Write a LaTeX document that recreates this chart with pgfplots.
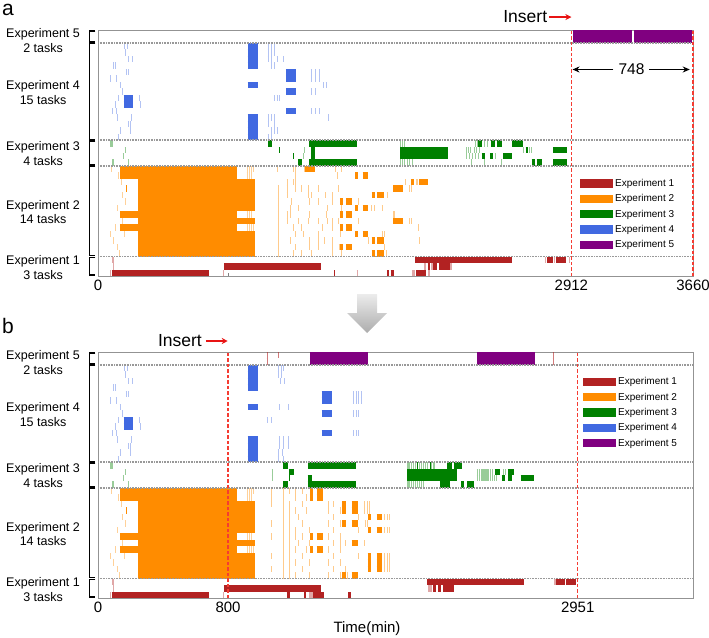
\documentclass[border=0pt]{standalone}
\usepackage{pgfplots}
\pgfplotsset{compat=1.18}
\usepackage{pgfplotstable}
\usepackage{fontspec}
\setmainfont{Liberation Sans}
\usetikzlibrary{arrows.meta}

\definecolor{cA}{HTML}{B22222}
\definecolor{cB}{HTML}{FF8C00}
\definecolor{cC}{HTML}{008000}
\definecolor{cD}{HTML}{4169E1}
\definecolor{cE}{HTML}{800080}
\definecolor{rl}{RGB}{245,60,50}
\definecolor{ins}{RGB}{232,20,20}
\definecolor{sepc}{gray}{0.6}

\pgfplotsset{
  bar/.style 2 args={draw=none, mark=none, forget plot,
    error bars/x dir=plus, error bars/x explicit, error bars/error mark=none,
    error bars/error bar style={line width=6.474pt, draw=#1, draw opacity=#2, line cap=butt}},
  gantax/.style={scale only axis, width=595pt, height=246pt,
    xmin=0, xmax=3660, ymin=0, ymax=38, clip=false,
    axis line style={draw=gray!85, line width=0.8pt},
    ytick=\empty, minor ytick={1,2,...,37}, minor tick length=2.5pt,
    tick align=inside, major tick length=3pt,
    tick style={gray, line width=0.5pt},
    xtick pos=bottom, ytick pos=left,
    xticklabel style={font=\fontsize{15}{18}\selectfont},
    legend cell align=left,
    legend image code/.code={\fill[##1, draw=none] (0pt,-4.2pt) rectangle (33pt,4.2pt);},
    legend style={draw=none, fill=none, anchor=north west,
      font=\fontsize{10}{12}\selectfont, row sep=2.6pt, inner sep=0pt}},
}
\newcommand\G[3]{\addplot[bar={#1}{#2}] table[x=s, y expr=\thisrow{r}+0.5, x error expr=\thisrow{e}-\thisrow{s}] {#3};}
\tikzset{lbl/.style={align=center, font=\fontsize{12.5}{14.7}\selectfont, inner sep=0pt},
  rdash/.style={draw=rl, dash pattern=on 3.5pt off 2pt, line width=1.4pt}}
\newcommand\brk[2]{\draw[line width=1.1pt, black] (axis cs:-16,#2) -- (axis cs:-54,#2) -- (axis cs:-54,#1) -- (axis cs:-16,#1);}
\newcommand\sepl[1]{\draw[sepc, dash pattern=on 1pt off 0.6pt, line width=1.3pt] (axis cs:0,#1) -- (axis cs:3660,#1);}
\newcommand\sides{%
  \node[lbl] at (axis cs:-338,36.4) {Experiment 5\\2 tasks};
  \node[lbl] at (axis cs:-338,28.3) {Experiment 4\\15 tasks};
  \node[lbl] at (axis cs:-338,18.9) {Experiment 3\\4 tasks};
  \node[lbl] at (axis cs:-338,9.9) {Experiment 2\\14 tasks};
  \node[lbl] at (axis cs:-338,1.35) {Experiment 1\\3 tasks};
  \brk{0.15}{2.85}\brk{3.15}{16.85}\brk{17.15}{20.85}\brk{21.15}{35.85}\brk{36.15}{37.85}
  \sepl{3}\sepl{17}\sepl{21}\sepl{36}
}
\newcommand\legs{%
  \addlegendimage{fill=cA}\addlegendentry{Experiment 1}
  \addlegendimage{fill=cB}\addlegendentry{Experiment 2}
  \addlegendimage{fill=cC}\addlegendentry{Experiment 3}
  \addlegendimage{fill=cD}\addlegendentry{Experiment 4}
  \addlegendimage{fill=cE}\addlegendentry{Experiment 5}
}

% ---------------- common data (both schedules) ----------------
\pgfplotstableread[row sep=\\]{s e r\\ 84 685 0\\ 775 1374 1\\}\ConeS
\pgfplotstableread[row sep=\\]{s e r\\ 74 80 0\\ 84 88 2\\ 94 98 2\\ 94 98 1\\ 770 775 0\\}\ConeL
\pgfplotstableread[row sep=\\]{s e r\\ 135 853 16\\ 135 853 15\\ 248 966 14\\ 248 966 13\\ 248 966 12\\ 248 966 11\\ 248 966 10\\ 135 853 9\\ 248 966 8\\ 135 853 7\\ 248 966 6\\ 248 966 5\\ 248 966 4\\ 248 966 3\\ 172 178 13\\}\CtwoS
\pgfplotstableread[row sep=\\]{s e r\\ 80 86 16\\ 125 131 15\\ 142 148 14\\ 146 152 12\\ 166 172 11\\ 117 123 10\\ 150 156 8\\ 105 111 7\\ 76 82 6\\ 160 166 6\\ 94 100 5\\ 115 121 4\\ 130 136 3\\
914 919 16\\ 928 933 16\\ 942 947 16\\ 956 961 16\\ 914 919 15\\ 928 933 15\\ 942 947 15\\ 914 919 9\\ 928 933 9\\ 942 947 9\\ 914 919 7\\ 928 933 7\\ 942 947 7\\ 956 961 7\\}\CtwoL
\pgfplotstableread[row sep=\\]{s e r\\ 74 90 20\\ 164 168 19\\ 152 156 18\\ 88 100 17\\ 184 190 17\\}\CthrL
\pgfplotstableread[row sep=\\]{s e r\\ 920 982 35\\ 920 982 34\\ 920 982 33\\ 920 982 32\\ 920 982 29\\ 920 982 24\\ 920 982 23\\ 920 982 22\\ 920 982 21\\ 158 213 27\\ 158 213 26\\}\CfouS
\pgfplotstableread[row sep=\\]{s e r\\ 162 166 35\\ 176 180 35\\ 166 172 34\\ 183 187 33\\ 209 213 33\\ 94 98 32\\ 103 107 32\\ 170 174 31\\ 187 191 31\\ 74 78 30\\ 109 113 30\\ 133 138 29\\ 146 150 28\\ 125 129 27\\ 252 256 27\\ 105 109 26\\ 256 260 26\\ 88 92 25\\ 109 113 25\\ 115 119 24\\ 203 207 24\\ 183 187 23\\ 197 201 23\\ 135 139 22\\ 197 201 22\\ 121 125 21\\}\CfouL

% ---------------- schedule a ----------------
\pgfplotstableread[row sep=\\]{s e r\\ 1453 1457 0\\ 1777 1790 0\\ 1800 1820 0\\ 1956 2015 0\\ 1952 2549 2\\ 2760 2800 2\\ 2815 2878 2\\ 2028 2045 1\\ 2062 2085 1\\ 2095 2165 1\\}\AoneS
\pgfplotstableread[row sep=\\]{s e r\\ 1591 1595 0\\ 1932 1950 0\\ 2030 2040 0\\ 2748 2758 2\\ 2803 2812 2\\ 2900 2906 2\\ 2005 2015 1\\ 2050 2058 1\\ 2165 2175 1\\}\AoneL
\pgfplotstableread[row sep=\\]{s e r\\ 1273 1335 16\\ 1581 1602 15\\ 1628 1663 15\\ 1925 1944 14\\ 1976 2030 14\\ 1815 1876 13\\ 1683 1704 12\\ 1716 1759 12\\ 1488 1507 11\\ 1525 1562 11\\ 1581 1602 10\\ 1628 1661 10\\ 1488 1507 9\\ 1525 1562 9\\ 1815 1876 8\\ 1488 1507 7\\ 1525 1562 7\\ 1581 1602 6\\ 1628 1661 6\\ 1683 1704 5\\ 1716 1759 5\\ 1488 1507 4\\ 1525 1562 4\\ 1683 1704 3\\ 1716 1759 3\\}\AtwoS
\pgfplotstableread[row sep=\\]{s e r\\ 1100 1106 16\\ 1200 1206 16\\ 1211 1217 16\\ 1268 1274 16\\ 1458 1464 16\\ 1495 1501 16\\ 1211 1217 15\\ 1470 1476 15\\
1160 1166 14\\ 1200 1206 14\\ 1211 1217 14\\ 1888 1894 14\\ 1955 1961 14\\ 1965 1971 14\\
1160 1166 13\\ 1211 1217 13\\ 1250 1256 13\\ 1293 1299 13\\ 1355 1361 13\\ 1478 1484 13\\ 1910 1916 13\\ 1925 1931 13\\
1160 1166 12\\ 1293 1299 12\\ 1310 1316 12\\ 1396 1402 12\\ 1440 1446 12\\ 1775 1781 12\\
1190 1196 11\\ 1300 1306 11\\ 1355 1361 11\\ 1440 1446 11\\ 1600 1606 11\\
1180 1186 10\\ 1230 1236 10\\ 1410 1416 10\\ 1495 1501 10\\ 1680 1686 10\\ 1700 1706 10\\ 1745 1751 10\\
1160 1166 9\\ 1180 1186 9\\ 1300 1306 9\\ 1400 1406 9\\ 1817 1827 9\\
1160 1166 8\\ 1230 1236 8\\ 1293 1299 8\\ 1355 1361 8\\ 1410 1416 8\\ 1440 1446 8\\ 1478 1484 8\\ 1600 1606 8\\ 1915 1921 8\\ 1925 1931 8\\
1200 1206 7\\ 1250 1256 7\\ 1380 1386 7\\ 1440 1446 7\\ 1970 1976 7\\
1211 1217 6\\ 1260 1266 6\\ 1355 1361 6\\ 1490 1496 6\\ 1745 1751 6\\ 1760 1766 6\\
1180 1186 5\\ 1300 1306 5\\ 1355 1361 5\\ 1390 1396 5\\ 1440 1446 5\\ 1660 1666 5\\ 1976 1982 5\\
1211 1217 4\\ 1300 1306 4\\ 1355 1361 4\\ 1440 1446 4\\ 1480 1486 4\\ 1760 1766 4\\
1200 1206 3\\ 1250 1256 3\\ 1310 1316 3\\ 1440 1446 3\\ 1495 1501 3\\ 1745 1751 3\\ 1770 1776 3\\
1107 1114 13\\ 1107 1114 12\\ 1107 1114 11\\ 1107 1114 10\\ 1107 1114 9\\ 1107 1114 8\\ 1107 1114 7\\ 1107 1114 6\\ 1107 1114 5\\ 1107 1114 4\\ 1107 1114 3\\}\AtwoL
\pgfplotstableread[row sep=\\]{s e r\\ 1043 1072 20\\ 1298 1595 20\\ 1113 1117 19\\ 1201 1205 18\\ 1232 1257 17\\ 1298 1595 17\\ 1310 1335 19\\ 1310 1335 18\\ 1858 2155 19\\ 1858 2155 18\\ 2544 2616 20\\ 2420 2440 20\\ 2455 2483 20\\ 2340 2360 20\\ 2800 2883 19\\ 2800 2883 17\\ 2667 2688 17\\ 2698 2729 17\\ 2360 2380 18\\ 2411 2432 18\\ 2493 2544 18\\ 2630 2645 19\\}\AthrS
\pgfplotstableread[row sep=\\]{s e r\\ 1860 1866 20\\ 1872 1878 20\\ 1884 1890 20\\ 2320 2326 20\\ 2330 2336 20\\ 2372 2378 20\\ 2395 2401 20\\
2265 2270 19\\ 2275 2280 19\\ 2290 2295 19\\ 2310 2315 19\\ 2325 2330 19\\ 2345 2350 19\\ 2616 2622 19\\ 2650 2656 19\\ 2665 2671 19\\ 1269 1273 19\\
2265 2270 18\\ 2280 2285 18\\ 2300 2305 18\\ 2320 2325 18\\ 2340 2345 18\\ 2440 2445 18\\ 1263 1267 18\\
1858 1864 17\\ 1870 1876 17\\ 1885 1891 17\\ 1900 1906 17\\ 1915 1921 17\\ 1930 1936 17\\ 2292 2296 17\\ 2376 2380 17\\ 2479 2483 17\\ 2705 2712 17\\}\AthrL
\pgfplotstableread[row sep=\\]{s e r\\ 1156 1218 31\\ 1156 1218 30\\ 1156 1218 28\\ 1156 1218 25\\}\AfouS
\pgfplotstableread[row sep=\\]{s e r\\ 1043 1047 35\\ 1064 1068 35\\ 1085 1089 35\\ 1043 1047 34\\ 1064 1068 34\\ 1085 1089 34\\ 1043 1047 24\\ 1064 1068 24\\ 1085 1089 24\\ 1417 1421 24\\
1043 1047 33\\ 1064 1068 33\\ 1099 1103 33\\ 1140 1144 33\\ 1064 1068 32\\ 1085 1089 32\\
1310 1314 31\\ 1335 1339 31\\ 1359 1363 31\\ 1310 1314 30\\ 1335 1339 30\\ 1359 1363 30\\ 1310 1314 25\\ 1335 1339 25\\ 1359 1363 25\\
1386 1390 29\\ 1400 1404 29\\ 1310 1314 28\\ 1335 1339 28\\ 1085 1089 27\\ 1099 1103 27\\ 1113 1117 27\\
1043 1047 23\\ 1085 1089 23\\ 1064 1068 22\\ 1085 1089 22\\ 1099 1103 22\\ 1043 1047 21\\ 1064 1068 21\\}\AfouL
\pgfplotstableread[row sep=\\]{s e r\\ 2923 3282 36\\ 2923 3282 37\\ 3297 3652 36\\ 3297 3652 37\\}\AfivS

% ---------------- schedule b ----------------
\pgfplotstableread[row sep=\\]{s e r\\ 1160 1181 0\\ 1269 1279 0\\ 1324 1390 0\\ 1540 1556 0\\ 2026 2622 2\\ 2820 2870 2\\ 2880 2940 2\\ 2063 2080 1\\ 2090 2110 1\\ 2120 2190 1\\}\BoneS
\pgfplotstableread[row sep=\\]{s e r\\ 1300 1322 0\\ 2805 2815 2\\ 2030 2055 1\\ 1160 1165 1\\}\BoneL
\pgfplotstableread[row sep=\\]{s e r\\ 1304 1325 16\\ 1345 1386 16\\ 1304 1325 15\\ 1345 1386 15\\ 1304 1325 9\\ 1345 1386 9\\ 1304 1325 7\\ 1345 1386 7\\
1503 1523 14\\ 1560 1601 14\\ 1503 1523 13\\ 1560 1601 13\\ 1503 1523 11\\ 1560 1601 11\\ 1503 1523 3\\ 1560 1601 3\\ 1560 1601 8\\
1658 1679 12\\ 1714 1749 12\\ 1658 1679 10\\ 1714 1749 10\\ 1658 1679 6\\ 1714 1749 6\\ 1658 1679 5\\ 1714 1749 5\\ 1658 1679 4\\ 1714 1749 4\\}\BtwoS
\pgfplotstableread[row sep=\\]{s e r\\ 1064 1070 16\\ 1177 1183 16\\ 1212 1218 16\\ 1253 1259 16\\ 1064 1070 15\\ 1212 1218 15\\ 1277 1283 15\\
1064 1070 14\\ 1177 1183 14\\ 1253 1259 14\\ 1417 1423 14\\ 1447 1453 14\\ 1638 1644 14\\ 1655 1661 14\\ 1670 1676 14\\
1212 1218 13\\ 1277 1283 13\\ 1417 1423 13\\ 1488 1494 13\\ 1638 1644 13\\ 1655 1661 13\\ 1670 1676 13\\
1230 1236 12\\ 1447 1453 12\\ 1600 1606 12\\ 1761 1767 12\\ 1775 1781 12\\ 1790 1796 12\\
1064 1070 11\\ 1253 1259 11\\ 1417 1423 11\\ 1488 1494 11\\ 1640 1646 11\\ 1655 1661 11\\
1212 1218 10\\ 1300 1306 10\\ 1447 1453 10\\ 1600 1606 10\\ 1761 1767 10\\ 1775 1781 10\\ 1790 1796 10\\
1064 1070 9\\ 1212 1218 9\\ 1253 1259 9\\ 1417 1423 9\\ 1488 1494 9\\
1230 1236 8\\ 1300 1306 8\\ 1447 1453 8\\ 1488 1494 8\\ 1520 1526 8\\ 1638 1644 8\\
1212 1218 7\\ 1277 1283 7\\ 1417 1423 7\\ 1488 1494 7\\
1064 1070 6\\ 1253 1259 6\\ 1447 1453 6\\ 1600 1606 6\\ 1761 1767 6\\ 1775 1781 6\\ 1790 1796 6\\
1212 1218 5\\ 1300 1306 5\\ 1417 1423 5\\ 1488 1494 5\\ 1761 1767 5\\ 1775 1781 5\\ 1790 1796 5\\
1064 1070 4\\ 1253 1259 4\\ 1447 1453 4\\ 1520 1526 4\\ 1761 1767 4\\ 1775 1781 4\\ 1790 1796 4\\
1212 1218 3\\ 1300 1306 3\\ 1417 1423 3\\ 1488 1494 3\\ 1520 1526 3\\ 1530 1536 3\\
1139 1147 16\\ 1139 1147 15\\ 1139 1147 14\\ 1139 1147 13\\ 1139 1147 12\\ 1139 1147 11\\ 1139 1147 10\\ 1139 1147 9\\ 1139 1147 8\\ 1139 1147 7\\ 1139 1147 6\\ 1139 1147 5\\ 1139 1147 4\\ 1139 1147 3\\
1176 1183 13\\ 1176 1183 12\\ 1176 1183 11\\ 1176 1183 10\\ 1176 1183 9\\ 1176 1183 8\\ 1176 1183 7\\ 1176 1183 6\\ 1176 1183 5\\ 1176 1183 4\\ 1176 1183 3\\}\BtwoL
\pgfplotstableread[row sep=\\]{s e r\\ 1140 1171 20\\ 1289 1587 20\\ 1177 1205 19\\ 1289 1318 18\\ 1140 1171 17\\ 1289 1587 17\\ 1903 2206 19\\ 1903 2206 18\\ 2149 2180 20\\ 2190 2237 20\\ 2103 2165 17\\ 2233 2252 17\\ 2270 2313 17\\ 2600 2682 18\\ 2483 2503 18\\ 2524 2544 18\\ 2440 2470 19\\ 2520 2560 19\\ 1177 1181 18\\ 1960 1966 20\\ 2040 2046 20\\}\BthrS
\pgfplotstableread[row sep=\\]{s e r\\ 1903 1910 20\\ 1915 1922 20\\ 1927 1934 20\\ 1939 1946 20\\ 1951 1958 20\\ 1975 1982 20\\ 1987 1994 20\\ 1999 2006 20\\ 2011 2018 20\\ 2023 2030 20\\ 2050 2057 20\\ 2059 2073 20\\
2329 2336 19\\ 2341 2348 19\\ 2353 2360 19\\ 2365 2372 19\\ 2377 2384 19\\ 2389 2396 19\\ 2401 2408 19\\ 2413 2420 19\\ 2425 2432 19\\ 2490 2497 19\\ 2502 2509 19\\ 1068 1072 19\\
2329 2336 18\\ 2341 2348 18\\ 2353 2360 18\\ 2365 2372 18\\ 2377 2384 18\\ 2389 2396 18\\ 2401 2408 18\\ 2413 2420 18\\ 2425 2432 18\\ 2437 2444 18\\ 2449 2456 18\\ 1068 1072 18\\
1903 1910 17\\ 1915 1922 17\\ 1927 1934 17\\ 1939 1946 17\\ 1951 1958 17\\ 1963 1970 17\\ 1975 1982 17\\ 1987 1994 17\\ 1999 2006 17\\}\BthrL
\pgfplotstableread[row sep=\\]{s e r\\ 1375 1437 31\\ 1375 1437 30\\ 1375 1437 28\\ 1375 1437 25\\}\BfouS
\pgfplotstableread[row sep=\\]{s e r\\ 1105 1109 35\\ 1125 1129 35\\ 1140 1144 35\\ 1105 1109 34\\ 1125 1129 34\\ 1120 1124 33\\ 1146 1150 33\\ 1113 1117 29\\ 1171 1175 29\\ 1037 1041 27\\ 1064 1068 27\\
1113 1117 24\\ 1140 1144 24\\ 1171 1175 24\\ 1113 1117 23\\ 1140 1144 23\\ 1171 1175 23\\ 1105 1109 22\\ 1130 1134 22\\ 1105 1109 21\\ 1140 1144 21\\
1570 1574 31\\ 1585 1589 31\\ 1600 1604 31\\ 1615 1619 31\\ 1570 1574 30\\ 1585 1589 30\\ 1600 1604 30\\ 1615 1619 30\\ 1570 1574 28\\ 1585 1589 28\\ 1600 1604 28\\ 1570 1574 25\\ 1585 1589 25\\ 1600 1604 25\\}\BfouL
\pgfplotstableread[row sep=\\]{s e r\\ 1304 1663 36\\ 1304 1663 37\\ 2333 2688 36\\ 2333 2688 37\\}\BfivS
\pgfplotstableread[row sep=\\]{s e r\\ 1037 1042 36\\ 1037 1042 37\\ 1105 1109 37\\ 2796 2801 36\\ 2796 2801 37\\}\BfivL

\begin{document}
\begin{tikzpicture}
\useasboundingbox (0,0) rectangle (709pt,-637pt);

% ================= panel a =================
\begin{axis}[gantax, at={(98pt,-276pt)}, anchor=south west,
  xtick={0,2912,3660}, xticklabels={0,2912,3660},
  extra x ticks={800}, extra x tick labels={},
  legend style={at={(0.8101,0.4026)}}]
\legs
\G{cA}{1}{\ConeS}\G{cA}{0.4}{\ConeL}\G{cA}{1}{\AoneS}\G{cA}{0.4}{\AoneL}
\G{cB}{1}{\CtwoS}\G{cB}{0.4}{\CtwoL}\G{cB}{1}{\AtwoS}\G{cB}{0.45}{\AtwoL}
\G{cC}{0.4}{\CthrL}\G{cC}{1}{\AthrS}\G{cC}{0.4}{\AthrL}
\G{cD}{1}{\CfouS}\G{cD}{0.4}{\CfouL}\G{cD}{1}{\AfouS}\G{cD}{0.4}{\AfouL}
\G{cE}{1}{\AfivS}
\sides
\draw[rdash] (axis cs:2912,0) -- (axis cs:2912,38);
\draw[rdash] (axis cs:3660,0) -- (axis cs:3660,38);
\node[anchor=east, inner sep=0pt, font=\fontsize{17.5}{20}\selectfont] at (axis cs:2764,40.0) {Insert};
\draw[ins, line width=1.7pt, -{Stealth[length=6pt,width=6pt]}] (axis cs:2774,40.0) -- (axis cs:2912,40.0);
\draw[line width=0.9pt, -{Stealth[length=7pt,width=6pt]}] (axis cs:3170,31.9) -- (axis cs:2919,31.9);
\draw[line width=0.9pt, -{Stealth[length=7pt,width=6pt]}] (axis cs:3391,31.9) -- (axis cs:3640,31.9);
\node[font=\fontsize{15.5}{18}\selectfont] at (axis cs:3282,31.9) {748};
\end{axis}

% ================= panel b =================
\begin{axis}[gantax, at={(98pt,-598pt)}, anchor=south west,
  xtick={0,800,2951}, xticklabels={0,800,2951},
  legend style={at={(0.8150,0.9053)}}]
\legs
\G{cA}{1}{\ConeS}\G{cA}{0.4}{\ConeL}\G{cA}{1}{\BoneS}\G{cA}{0.4}{\BoneL}
\G{cB}{1}{\CtwoS}\G{cB}{0.4}{\CtwoL}\G{cB}{1}{\BtwoS}\G{cB}{0.45}{\BtwoL}
\G{cC}{0.4}{\CthrL}\G{cC}{1}{\BthrS}\G{cC}{0.4}{\BthrL}
\G{cD}{1}{\CfouS}\G{cD}{0.4}{\CfouL}\G{cD}{1}{\BfouS}\G{cD}{0.4}{\BfouL}
\G{cE}{1}{\BfivS}\G{cA}{0.6}{\BfivL}
\sides
\draw[rdash] (axis cs:800,0) -- (axis cs:800,38);
\draw[rdash] (axis cs:2951,0) -- (axis cs:2951,38);
\node[anchor=east, inner sep=0pt, font=\fontsize{17.5}{20}\selectfont] at (axis cs:640,39.7) {Insert};
\draw[ins, line width=1.7pt, -{Stealth[length=6pt,width=6pt]}] (axis cs:664,39.7) -- (axis cs:798,39.7);
\end{axis}

% panel letters, arrow, axis title
\node[anchor=base west, inner sep=0pt, font=\fontsize{21}{24}\selectfont] at (2pt,-16pt) {a};
\node[anchor=base west, inner sep=0pt, font=\fontsize{21}{24}\selectfont] at (2pt,-333pt) {b};
\shade[top color=gray!15, bottom color=gray!65] (357pt,-294pt) -- (377pt,-294pt) -- (377pt,-313pt) -- (387pt,-313pt) -- (367pt,-333pt) -- (347pt,-313pt) -- (357pt,-313pt) -- cycle;
\node[anchor=base, inner sep=0pt, font=\fontsize{15}{18}\selectfont] at (367pt,-632pt) {Time(min)};
\end{tikzpicture}
\end{document}
